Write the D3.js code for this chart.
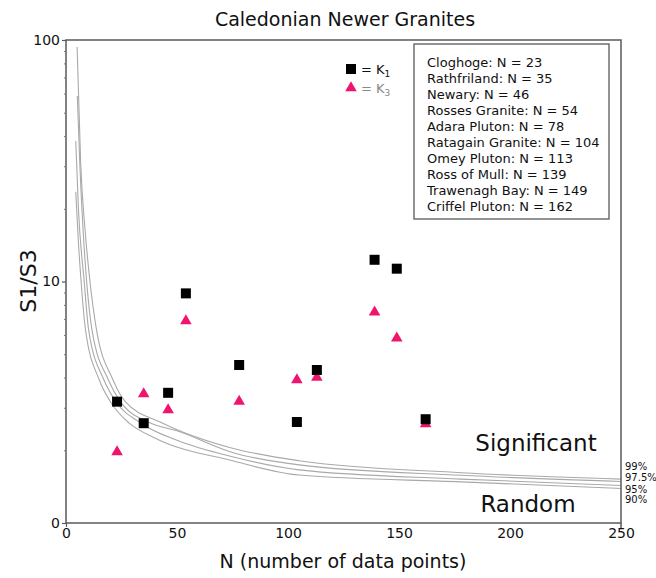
<!DOCTYPE html>
<html><head><meta charset="utf-8">
<script src="https://cdn.jsdelivr.net/npm/d3@7"></script>
<style>
body{margin:0;background:#fff}
svg{display:block}
text{font-family:"DejaVu Sans",Verdana,sans-serif;fill:#111}
</style>
</head><body>
<svg id="chart" width="656" height="578"></svg>
<script>
// ---- data ----
const localities = ["Cloghoge","Rathfriland","Newary","Rosses Granite","Adara Pluton","Ratagain Granite","Omey Pluton","Ross of Mull","Trawenagh Bay","Criffel Pluton"];
const nValues = [23,35,46,54,78,104,113,139,149,162];
const k1Values = [3.18,2.59,3.46,8.93,4.51,2.62,4.30,12.3,11.3,2.69];
const k3Values = [1.97,3.42,2.94,6.86,3.19,3.91,4.01,7.46,5.82,2.57];

const confLabels = ["99%","97.5%","95%","90%"];
const curveN99 = [5,6.6,8.6,10.8,13.5,21.2,26.7,43.6,75,105,178,250];
const curveV99 = [93.5,31,16.3,10,6.5,3.91,3.18,2.59,2.04,1.81,1.615,1.52];
const curveN975 = [5.1,6.2,7.7,9.3,11.7,19.1,24.5,38.3,50,75,105,178,250];
const curveV975 = [58.6,31,16.3,10,6.3,3.91,3.18,2.59,2.41,1.96,1.74,1.576,1.486];
const curveN95 = [4.4,5.6,8.2,10.2,17.1,22.5,33.8,50,75,105,178,250];
const curveV95 = [38.2,20,10,6.3,3.91,3.18,2.59,2.2,1.88,1.66,1.52,1.43];
const curveN90 = [4.4,5.5,6.8,8.8,15,20,28.5,40,75,105,178,250];
const curveV90 = [23.5,15,10,6.3,3.91,3.18,2.59,2.25,1.81,1.58,1.48,1.39];

const xTicks = [0,50,100,150,200,250];
const yTicks = [1,10,100];
const yTickLabels = ["0","10","100"];
const yMinor = [2,3,4,5,6,7,8,9,20,30,40,50,60,70,80,90];

// ---- layout ----
const svg = d3.select("#chart");
const L=66, R=621, T=40, B=523;
const x = d3.scaleLinear().domain([0,250]).range([L,R]);
const y = d3.scaleLog().domain([1,100]).range([B,T]);
const frame = "#5a5a5a";
const pink = "#f0146e";

// curves
const curves = [
  curveN99.map((n,i)=>[n,curveV99[i]]),
  curveN975.map((n,i)=>[n,curveV975[i]]),
  curveN95.map((n,i)=>[n,curveV95[i]]),
  curveN90.map((n,i)=>[n,curveV90[i]])
];
const line = d3.line().x(d=>x(d[0])).y(d=>y(d[1])).curve(d3.curveMonotoneX);
svg.append("g").selectAll("path").data(curves).join("path")
  .attr("d",line).attr("fill","none").attr("stroke","#a9a9a9").attr("stroke-width",1.1);

// frame
svg.append("rect").attr("x",L).attr("y",T).attr("width",R-L).attr("height",B-T)
  .attr("fill","none").attr("stroke",frame).attr("stroke-width",1.5);
svg.append("line").attr("x1",R).attr("x2",R).attr("y1",B).attr("y2",B+6).attr("stroke",frame).attr("stroke-width",1.5);

// y axis
const yAxis = d3.axisLeft(y).tickValues(yTicks).tickFormat((d,i)=>yTickLabels[i]).tickSize(4).tickPadding(2);
const gy = svg.append("g").attr("transform",`translate(${L},0)`).call(yAxis);
gy.select(".domain").remove();
gy.selectAll("line").attr("stroke",frame).attr("stroke-width",1.2);
gy.selectAll("text").style("font-size","14px").attr("fill","#222");
const gym = svg.append("g").attr("transform",`translate(${L},0)`).call(d3.axisLeft(y).tickValues(yMinor).tickFormat("").tickSize(2));
gym.select(".domain").remove();
gym.selectAll("line").attr("stroke","#777").attr("stroke-width",1);

// x axis
const xAxis = d3.axisBottom(x).tickValues(xTicks).tickSize(0).tickPadding(5);
const gx = svg.append("g").attr("transform",`translate(0,${B})`).call(xAxis);
gx.select(".domain").remove();
gx.selectAll("text").style("font-size","14px").attr("fill","#222");
const gxe = svg.append("g").attr("transform",`translate(0,${B})`).call(d3.axisBottom(x).tickValues([0]).tickFormat("").tickSize(4));
gxe.select(".domain").remove();
gxe.selectAll("line").attr("stroke",frame).attr("stroke-width",1.2);

// points
const sq = d3.symbol().type(d3.symbolSquare).size(100);
const tri = d3.symbol().type(d3.symbolTriangle).size(58);
svg.append("g").selectAll("path").data(nValues).join("path")
  .attr("d",tri).attr("transform",(d,i)=>`translate(${x(d)},${y(k3Values[i])})`).attr("fill",pink);
svg.append("g").selectAll("path").data(nValues).join("path")
  .attr("d",sq).attr("transform",(d,i)=>`translate(${x(d)},${y(k1Values[i])})`).attr("fill","#000");

// title and axis labels
svg.append("text").attr("x",345).attr("y",26).attr("text-anchor","middle").style("font-size","19px").text("Caledonian Newer Granites");
svg.append("text").attr("x",343).attr("y",568).attr("text-anchor","middle").style("font-size","19px").text("N (number of data points)");
svg.append("text").attr("transform","translate(36,281) rotate(-90)").attr("text-anchor","middle").style("font-size","22px").text("S1/S3");

// region labels
svg.append("text").attr("x",536).attr("y",451).attr("text-anchor","middle").style("font-size","23px").text("Significant");
svg.append("text").attr("x",528).attr("y",512).attr("text-anchor","middle").style("font-size","23px").text("Random");

// confidence labels
const confY = [470,481,493,503];
svg.append("g").selectAll("text").data(confLabels).join("text")
  .attr("x",625).attr("y",(d,i)=>confY[i]).style("font-size","10px").attr("fill","#333").text(d=>d);

// K legend
svg.append("path").attr("d",sq).attr("transform","translate(351,69)").attr("fill","#000");
svg.append("path").attr("d",tri).attr("transform","translate(351,88)").attr("fill",pink);
const k1t = svg.append("text").attr("x",361).attr("y",74).style("font-size","13px");
k1t.append("tspan").text("= K");
k1t.append("tspan").attr("dy",3).style("font-size","9px").text("1");
const k3t = svg.append("text").attr("x",361).attr("y",93).style("font-size","13px").attr("fill","#888");
k3t.append("tspan").attr("fill","#888").text("= K");
k3t.append("tspan").attr("dy",3).attr("fill","#888").style("font-size","9px").text("3");

// locality legend
svg.append("rect").attr("x",414).attr("y",44).attr("width",195).attr("height",175)
  .attr("fill","#fff").attr("stroke",frame).attr("stroke-width",1.3);
svg.append("g").selectAll("text").data(localities).join("text")
  .attr("x",427).attr("y",(d,i)=>67+i*16).style("font-size","13px")
  .text((d,i)=>`${d}: N = ${nValues[i]}`);
</script>
</body></html>
